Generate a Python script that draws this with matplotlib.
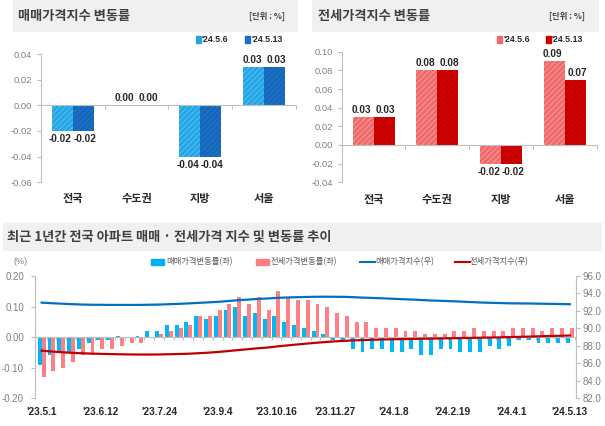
import numpy as np
import matplotlib.pyplot as plt
import matplotlib.transforms as mtrans
from matplotlib.patches import Rectangle
from matplotlib.lines import Line2D
from matplotlib.ticker import FuncFormatter

plt.rcParams['font.family'] = ['Noto Sans CJK KR', 'DejaVu Sans']
plt.rcParams['hatch.linewidth'] = 0.7

NUM = ['Liberation Sans', 'Noto Sans CJK KR']
TICK = ['Liberation Sans', 'DejaVu Sans']

# top panels: weekly change by region (%)
regions = ['전국', '수도권', '지방', '서울']
dates = ["'24.5.6", "'24.5.13"]
sale_prev = [-0.02, 0.00, -0.04, 0.03]
sale_now = [-0.02, 0.00, -0.04, 0.03]
rent_prev = [0.03, 0.08, -0.02, 0.09]
rent_now = [0.03, 0.08, -0.02, 0.07]

# bottom panel: weekly, '23.5.1 ~ '24.5.13
week_labels = ["'23.5.1", "'23.6.12", "'23.7.24", "'23.9.4", "'23.10.16",
               "'23.11.27", "'24.1.8", "'24.2.19", "'24.4.1", "'24.5.13"]
sale_chg = [-0.09, -0.06, -0.05, -0.05, -0.04, -0.02, -0.01, -0.01, 0.003, 0.00,
            0.003, 0.02, 0.02, 0.04, 0.04, 0.05, 0.07, 0.06, 0.07, 0.09,
            0.10, 0.07, 0.08, 0.06, 0.07, 0.05, 0.04, 0.03, 0.02, 0.01,
            -0.01, -0.01, -0.04, -0.05, -0.04, -0.04, -0.05, -0.05, -0.04, -0.06,
            -0.06, -0.04, -0.04, -0.05, -0.05, -0.05, -0.03, -0.04, -0.03, -0.01,
            -0.01, -0.02, -0.02, -0.02, -0.02]
rent_chg = [-0.13, -0.11, -0.10, -0.08, -0.06, -0.06, -0.04, -0.04, -0.03, -0.02,
            -0.02, 0.00, 0.01, 0.02, 0.03, 0.04, 0.07, 0.07, 0.09, 0.11,
            0.13, 0.11, 0.13, 0.09, 0.15, 0.13, 0.12, 0.12, 0.11, 0.10,
            0.08, 0.07, 0.05, 0.05, 0.03, 0.03, 0.03, 0.02, 0.02, 0.01,
            0.01, 0.01, 0.02, 0.02, 0.03, 0.02, 0.02, 0.02, 0.03, 0.03,
            0.03, 0.02, 0.03, 0.03, 0.03]
sale_idx = [92.95, 92.89, 92.83, 92.78, 92.74, 92.71, 92.70, 92.69, 92.69, 92.69,
            92.69, 92.71, 92.73, 92.77, 92.81, 92.86, 92.92, 92.98, 93.04, 93.13,
            93.22, 93.29, 93.37, 93.42, 93.49, 93.54, 93.57, 93.60, 93.62, 93.63,
            93.62, 93.61, 93.57, 93.52, 93.48, 93.44, 93.39, 93.34, 93.30, 93.24,
            93.19, 93.15, 93.11, 93.06, 93.01, 92.96, 92.93, 92.90, 92.87, 92.86,
            92.85, 92.83, 92.81, 92.79, 92.77]
rent_idx = [87.45, 87.36, 87.28, 87.21, 87.16, 87.12, 87.09, 87.06, 87.04, 87.02,
            87.01, 87.01, 87.02, 87.04, 87.07, 87.10, 87.16, 87.22, 87.30, 87.40,
            87.51, 87.61, 87.72, 87.80, 87.93, 88.04, 88.15, 88.25, 88.35, 88.44,
            88.52, 88.58, 88.63, 88.67, 88.71, 88.74, 88.76, 88.78, 88.80, 88.82,
            88.84, 88.86, 88.88, 88.90, 88.92, 88.94, 88.96, 88.98, 89.01, 89.04,
            89.07, 89.10, 89.13, 89.16, 89.19]

W, H = 605, 426
fig = plt.figure(figsize=(W / 100, H / 100), dpi=100)


def px(x0, y0, x1, y1):
    return [x0 / W, 1 - y1 / H, (x1 - x0) / W, (y1 - y0) / H]


def band(x0, y0, x1, y1):
    fig.patches.append(Rectangle((x0 / W, 1 - y1 / H), (x1 - x0) / W, (y1 - y0) / H,
                                 transform=fig.transFigure, color='#F0F0F0', zorder=0))


def ftext(x, y, s, **kw):
    fig.text(x / W, 1 - y / H, s, **kw)


def change_panel(box, prev, now, colors, hcolors, ylim, yticks):
    ax = fig.add_axes(px(*box))
    x = np.arange(len(regions))
    w = 0.33
    for off, dx, vals, c, hc in [(-w / 2, -1.2, prev, colors[0], hcolors[0]),
                                 (w / 2, 1.2, now, colors[1], hcolors[1])]:
        bars = ax.bar(x + off, vals, w, color=c, edgecolor=hc, hatch='//////', lw=0)
        for b, v in zip(bars, vals):
            ax.annotate(f'{v:.2f}', (b.get_x() + b.get_width() / 2, v),
                        xytext=(dx, 1.5 if v >= 0 else -2.5), textcoords='offset points',
                        ha='center', va='bottom' if v >= 0 else 'top',
                        fontsize=7.2, fontweight='bold', family=NUM, color='#262626')
    ax.set_xlim(-0.5, len(regions) - 0.5)
    ax.set_ylim(*ylim)
    ax.set_yticks(yticks)
    ax.yaxis.set_major_formatter(FuncFormatter(lambda v, p: f'{v:.2f}'))
    for s in ['top', 'right']:
        ax.spines[s].set_visible(False)
    ax.spines['left'].set_color('#BFBFBF')
    ax.spines['bottom'].set_position(('data', 0))
    ax.spines['bottom'].set_color('#BFBFBF')
    ax.set_xticks(x + 0.5)
    ax.set_xticklabels([])
    ax.tick_params(axis='x', length=3, color='#BFBFBF')
    ax.tick_params(axis='y', length=3, color='#BFBFBF', pad=3, labelsize=6.8,
                   labelcolor='#808080')
    for t in ax.get_yticklabels():
        t.set_family(TICK)
    tr = mtrans.blended_transform_factory(ax.transData, ax.transAxes)
    for i, r in enumerate(regions):
        ax.text(i, -0.13, r, transform=tr, ha='center', va='center',
                fontsize=8, fontweight='bold', color='#262626')
    return ax


# top-left: 매매
band(13, 0, 297, 31)
ftext(18, 16, '매매가격지수 변동률', fontsize=9.5, fontweight='bold', color='#404040', va='center')
ftext(285, 16, '[단위 : %]', fontsize=6, fontweight='bold', color='#404040', va='center', ha='right')
change_panel((40.7, 54, 296, 182.3), sale_prev, sale_now,
             ['#21A6E6', '#1A6FC4'], ['#5CC0EE', '#1560B0'],
             (-0.06, 0.04), np.arange(-0.06, 0.041, 0.02))

# top-right: 전세
band(312, 0, 598, 31)
ftext(318, 16, '전세가격지수 변동률', fontsize=9.5, fontweight='bold', color='#404040', va='center')
ftext(585, 16, '[단위 : %]', fontsize=6, fontweight='bold', color='#404040', va='center', ha='right')
change_panel((341.7, 51.7, 596.7, 182.3), rent_prev, rent_now,
             ['#F06A6A', '#D10000'], ['#F59A9A', '#B50000'],
             (-0.04, 0.10), np.arange(-0.04, 0.101, 0.02))

# top legends
for lx, cols in [(196, ['#21A6E6', '#1A6FC4']), (497, ['#F06A6A', '#D10000'])]:
    for k, (d, c) in enumerate(zip(dates, cols)):
        x0 = lx + k * 49
        fig.patches.append(Rectangle((x0 / W, 1 - 43 / H), 5 / W, 7 / H,
                                     transform=fig.transFigure, color=c))
        ftext(x0 + 6, 39.5, d, fontsize=6.3, fontweight='bold', family=NUM,
              color='#262626', va='center')

# bottom title
band(3, 223, 601, 250)
ftext(7, 236.5, '최근 1년간 전국 아파트 매매 · 전세가격 지수 및 변동률 추이',
      fontsize=9.5, fontweight='bold', color='#404040', va='center')

# bottom legend
ftext(13, 262, '(%)', fontsize=6.5, color='#808080', va='center', family=TICK)
leg = [('rect', '#00B0F0', 151, '매매가격변동률(좌)'),
       ('rect', '#FF7C80', 256, '전세가격변동률(좌)'),
       ('line', '#0070C0', 360, '매매가격지수(우)'),
       ('line', '#C00000', 455, '전세가격지수(우)')]
for kind, c, lx, lab in leg:
    if kind == 'rect':
        fig.patches.append(Rectangle((lx / W, 1 - 265 / H), 13 / W, 6 / H,
                                     transform=fig.transFigure, color=c))
    else:
        fig.lines.append(Line2D([lx / W, (lx + 15) / W], [1 - 262 / H, 1 - 262 / H],
                                transform=fig.transFigure, color=c, lw=1.5))
    ftext(lx + 15, 262, lab, fontsize=6, color='#595959', va='center')

# bottom chart
ax = fig.add_axes(px(35, 276, 576, 398.3))
x = np.arange(len(sale_chg))
ax.bar(x - 0.2, sale_chg, 0.4, color='#00B8F5', lw=0)
ax.bar(x + 0.2, rent_chg, 0.4, color='#FF7F84', lw=0)
ax.set_xlim(-0.68, len(x) - 0.37)
ax.set_ylim(-0.2, 0.2)
ax.set_yticks(np.arange(-0.2, 0.201, 0.1))
ax.yaxis.set_major_formatter(FuncFormatter(lambda v, p: f'{v:.2f}'))
for s in ['top', 'right']:
    ax.spines[s].set_visible(False)
ax.spines['left'].set_color('#BFBFBF')
ax.spines['bottom'].set_position(('data', 0))
ax.spines['bottom'].set_color('#BFBFBF')
ax.set_xticks(x + 0.5)
ax.set_xticklabels([])
ax.tick_params(axis='x', length=2.5, color='#BFBFBF')
ax.tick_params(axis='y', length=3, color='#BFBFBF', pad=5, labelsize=7,
               labelcolor='#808080')
for t in ax.get_yticklabels():
    t.set_family(TICK)
tr = mtrans.blended_transform_factory(ax.transData, ax.transAxes)
for i, lab in enumerate(week_labels):
    ax.text(i * 6, -0.115, lab, transform=tr, ha='center', va='center',
            fontsize=7.3, fontweight='bold', family=NUM, color='#262626')

ax2 = ax.twinx()
ax2.plot(x, sale_idx, color='#0070C0', lw=1.6)
ax2.plot(x, rent_idx, color='#C00000', lw=1.6)
ax2.set_ylim(82, 96)
ax2.set_yticks(np.arange(82, 96.1, 2))
ax2.yaxis.set_major_formatter(FuncFormatter(lambda v, p: f'{v:.1f}'))
for s in ['top', 'left', 'bottom']:
    ax2.spines[s].set_visible(False)
ax2.spines['right'].set_color('#BFBFBF')
ax2.tick_params(axis='y', length=3, color='#BFBFBF', pad=2, labelsize=7,
                labelcolor='#808080')
for t in ax2.get_yticklabels():
    t.set_family(TICK)

fig.savefig('out.png', dpi=100)
